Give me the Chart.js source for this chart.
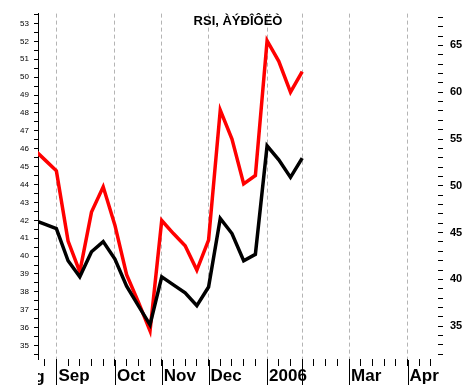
<!DOCTYPE html>
<html>
<head>
<meta charset="utf-8">
<script src="https://cdn.jsdelivr.net/npm/chart.js@4.4.0/dist/chart.umd.min.js"></script>
<style>
  body { margin: 0; background: #fff; }
</style>
</head>
<body>
<canvas id="rsiChart" width="476" height="385"></canvas>
<script>
// week index, 0 = first week of Sep 2005
const weeks = [-2, -1, 0, 1, 2, 3, 4, 5, 6, 7, 8, 9, 10, 11, 12, 13, 14, 15, 16, 17, 18, 19, 20, 21];

// black line, left axis
const priceValues = [42.03, 41.78, 41.53, 39.74, 38.84, 40.24, 40.81, 39.83, 38.32, 37.23, 36.16, 38.84,
                     38.39, 37.95, 37.23, 38.27, 42.10, 41.26, 39.74, 40.10, 46.16, 45.38, 44.40, 45.47];

// red line, right axis
const rsiValues = [54.0, 52.8, 51.6, 44.1, 40.8, 47.2, 49.9, 45.8, 40.5, 37.6, 34.5, 46.3,
                   44.9, 43.6, 41.0, 44.2, 58.1, 55.0, 50.2, 51.1, 65.5, 63.3, 60.0, 62.2];

// first week of each month and its label
const monthStarts = [-4, 0, 5, 9, 13, 18, 21, 25, 30];
const monthLabels = ['Aug', 'Sep', 'Oct', 'Nov', 'Dec', '2006', 'Feb', 'Mar', 'Apr'];

const chartTitle = 'RSI, ÀÝÐÎÔËÒ';
const fontFamily = '"Liberation Sans", Arial, sans-serif';

// month label for a week tick, skipped when too close to the previous one
function monthLabel(value) {
    const i = monthStarts.indexOf(value);
    if (i < 0) return '';
    if (i > 0 && monthStarts[i] - monthStarts[i - 1] < 4) return '';
    return monthLabels[i];
}

// separators under the axis, clipped "Aug" label and title
const extrasPlugin = {
    id: 'extras',
    afterDraw(chart) {
        const ctx = chart.ctx;
        const area = chart.chartArea;
        const x = chart.scales.x;

        ctx.save();
        ctx.strokeStyle = '#000';
        ctx.lineWidth = 1;
        monthStarts.forEach(m => {
            if (m < x.min || m > x.max) return;
            const px = Math.round(x.getPixelForValue(m)) + 0.5;
            ctx.beginPath();
            ctx.moveTo(px, area.bottom + 1);
            ctx.lineTo(px, chart.height);
            ctx.stroke();
        });

        ctx.beginPath();
        ctx.rect(area.left, area.bottom, area.right - area.left, chart.height - area.bottom);
        ctx.clip();
        ctx.font = 'bold 17px ' + fontFamily;
        ctx.fillStyle = '#000';
        ctx.textBaseline = 'alphabetic';
        monthStarts.forEach((m, i) => {
            if (m < x.min) ctx.fillText(monthLabels[i], x.getPixelForValue(m) + 2, 382);
        });
        ctx.restore();

        ctx.save();
        ctx.font = 'bold 13px ' + fontFamily;
        ctx.fillStyle = '#000';
        ctx.textAlign = 'center';
        ctx.textBaseline = 'middle';
        ctx.fillText(chartTitle, (area.left + area.right) / 2, area.top + 8);
        ctx.restore();
    }
};

const ctx = document.getElementById('rsiChart').getContext('2d');
new Chart(ctx, {
    type: 'line',
    data: {
        datasets: [
            {
                label: 'Price',
                data: weeks.map((w, i) => ({x: w, y: priceValues[i]})),
                borderColor: '#000',
                borderWidth: 3.5,
                yAxisID: 'y'
            },
            {
                label: 'RSI',
                data: weeks.map((w, i) => ({x: w, y: rsiValues[i]})),
                borderColor: '#ff0000',
                borderWidth: 3.5,
                yAxisID: 'y1'
            }
        ]
    },
    options: {
        responsive: false,
        animation: false,
        layout: { padding: 0 },
        elements: {
            point: { radius: 0 },
            line: { tension: 0, borderJoinStyle: 'miter' }
        },
        plugins: {
            legend: { display: false },
            tooltip: { enabled: false }
        },
        scales: {
            x: {
                type: 'linear',
                min: -1.57,
                max: 32.6,
                afterFit: s => { s.height = 26; },
                border: { display: false, dash: [4, 3] },
                grid: {
                    color: c => monthStarts.includes(c.tick.value) ? '#b4b4b4' : 'rgba(0,0,0,0)',
                    tickColor: '#000',
                    tickLength: 7,
                    tickBorderDash: []
                },
                ticks: {
                    stepSize: 1,
                    maxTicksLimit: 100,
                    includeBounds: false,
                    autoSkip: false,
                    maxRotation: 0,
                    minRotation: 0,
                    align: 'start',
                    labelOffset: 2,
                    padding: 0,
                    color: '#000',
                    font: { size: 17, weight: 'bold', family: fontFamily },
                    callback: monthLabel
                }
            },
            y: {
                position: 'left',
                min: 34.25,
                max: 53.55,
                afterFit: s => { s.width = 38; },
                border: { display: true, color: '#000', width: 1 },
                grid: { drawOnChartArea: false, tickColor: '#000', tickLength: 4 },
                ticks: {
                    stepSize: 0.5,
                    includeBounds: false,
                    autoSkip: false,
                    padding: 5,
                    color: '#000',
                    font: { size: 8, family: fontFamily },
                    callback: v => Number.isInteger(v) ? v : ''
                }
            },
            y1: {
                position: 'right',
                min: 31.5,
                max: 68.4,
                afterFit: s => { s.width = 38; },
                border: { display: false },
                grid: { drawOnChartArea: false, tickColor: '#000', tickLength: 5 },
                ticks: {
                    stepSize: 1,
                    includeBounds: false,
                    autoSkip: false,
                    padding: 7,
                    color: '#000',
                    font: { size: 11, weight: 'bold', family: fontFamily },
                    callback: v => v % 5 === 0 ? v : ''
                }
            }
        }
    },
    plugins: [extrasPlugin]
});
</script>
</body>
</html>
